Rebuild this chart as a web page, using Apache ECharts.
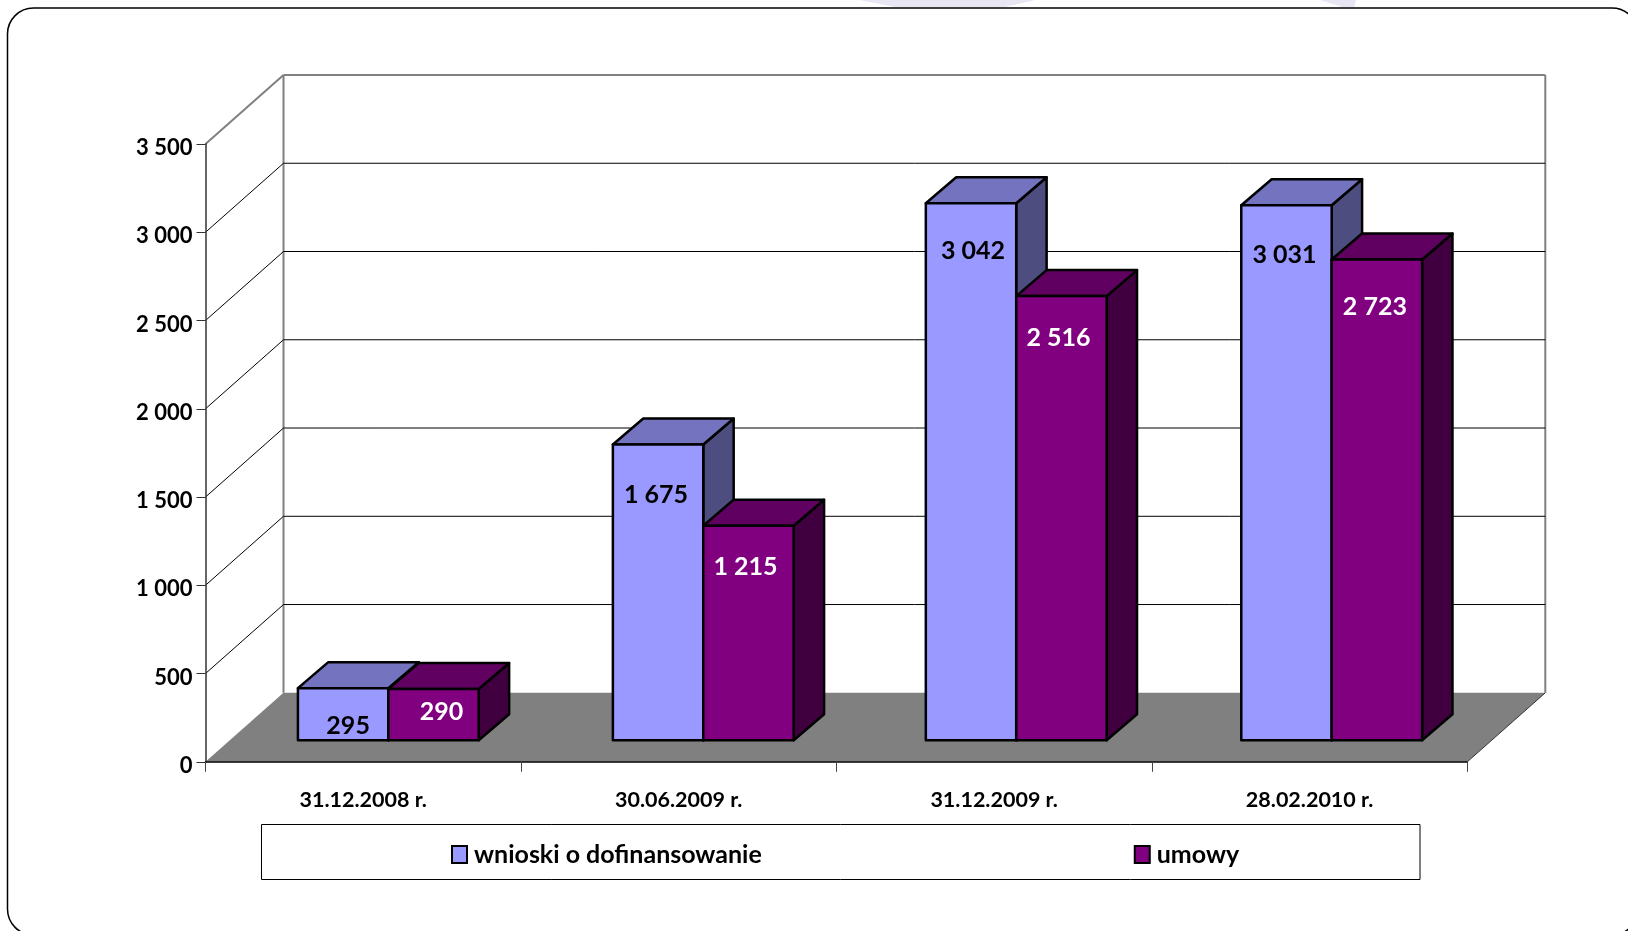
<!DOCTYPE html>
<html>
<head>
<meta charset="utf-8">
<style>html,body{margin:0;padding:0;background:#fff}#c{width:1628px;height:931px}</style>
<script src="https://cdn.jsdelivr.net/npm/echarts@6/dist/echarts.min.js"></script>
</head>
<body>
<div id="c"></div>
<script>
var categories = ['31.12.2008 r.', '30.06.2009 r.', '31.12.2009 r.', '28.02.2010 r.'];
var seriesNames = ['wnioski o dofinansowanie', 'umowy'];
var wnioski = [295, 1675, 3042, 3031];
var umowy = [290, 1215, 2516, 2723];
var valueTicks = [0, 500, 1000, 1500, 2000, 2500, 3000, 3500];
// hand-placed data-label nudges from the bar centre, in px
var wnioskiNudge = [[5, 38], [-2, 50], [2, 48], [-2, 50]];
var umowyNudge = [[8, 23], [-3, 41], [-3, 42], [-2, 47]];
// small per-category drift of the bar clusters in the source, in px
var clusterNudge = [0.5, 0, -2.5, -2.5];

var FONT = 'Lato,"Liberation Sans",sans-serif';
var WALL_DX = 78, WALL_DY = 69;
var BAR_SHIFT_X = 24.6, BAR_SHIFT_Y = 21.6;
var DEPTH_X = 30.4, DEPTH_Y = 26;
var BAR_W = 90.4;
var faces = [
  {front: '#9999FF', top: '#7373BF', side: '#4D4D80'},
  {front: '#800080', top: '#600060', side: '#400040'}
];
var labelColors = ['#000', '#fff'];

function spaced(v) { return String(v).replace(/\B(?=(\d{3})+$)/g, ' '); }
function thousands(v) { return spaced(v); }

function renderWall(params, api) {
  var r = params.coordSys;
  var v = api.value(0);
  var y = api.coord([0, v])[1];
  var x0 = r.x, x1 = r.x + r.width;
  var kids = [];
  var edge = (v === 3500);
  var stroke = edge ? '#808080' : '#000';
  var lw = edge ? 2 : 1;
  if (v === 0) {
    kids.push({type: 'polygon', shape: {points: [[x0, y], [x1, y], [x1 + WALL_DX, y - WALL_DY], [x0 + WALL_DX, y - WALL_DY]]},
      style: {fill: '#808080', stroke: null}});
    kids.push({type: 'line', shape: {x1: x0 + WALL_DX, y1: r.y - WALL_DY, x2: x0 + WALL_DX, y2: y - WALL_DY}, style: {stroke: '#808080', lineWidth: 2}});
    kids.push({type: 'line', shape: {x1: x1 + WALL_DX, y1: r.y - WALL_DY, x2: x1 + WALL_DX, y2: y - WALL_DY}, style: {stroke: '#808080', lineWidth: 2}});
    kids.push({type: 'line', shape: {x1: x1, y1: y, x2: x1 + WALL_DX, y2: y - WALL_DY}, style: {stroke: '#333', lineWidth: 1}});
  } else {
    kids.push({type: 'polyline', shape: {points: [[x0, y], [x0 + WALL_DX, y - WALL_DY]]}, style: {stroke: stroke, lineWidth: lw, fill: null}});
    kids.push({type: 'line', shape: {x1: x0 + WALL_DX, y1: y - WALL_DY, x2: x1 + WALL_DX, y2: y - WALL_DY}, style: {stroke: stroke, lineWidth: lw}});
  }
  return {type: 'group', children: kids};
}

function makeRenderBar(index, nudges) {
  return function (params, api) {
    var cat = api.value(0), val = api.value(1);
    var base = api.coord([cat, 0]);
    var topP = api.coord([cat, val]);
    var cx = base[0] + BAR_SHIFT_X + clusterNudge[params.dataIndex] + (index === 0 ? -BAR_W / 2 : BAR_W / 2);
    var l = cx - BAR_W / 2, rr = cx + BAR_W / 2;
    var b = base[1] - BAR_SHIFT_Y;
    var t = topP[1] - BAR_SHIFT_Y;
    var f = faces[index];
    var line = {stroke: '#000', lineWidth: 2.5, lineJoin: 'round'};
    var n = nudges[params.dataIndex];
    function st(fill) { return Object.assign({fill: fill}, line); }
    return {type: 'group', children: [
      {type: 'polygon', shape: {points: [[rr, t], [rr + DEPTH_X, t - DEPTH_Y], [rr + DEPTH_X, b - DEPTH_Y], [rr, b]]}, style: st(f.side)},
      {type: 'polygon', shape: {points: [[l, t], [l + DEPTH_X, t - DEPTH_Y], [rr + DEPTH_X, t - DEPTH_Y], [rr, t]]}, style: st(f.top)},
      {type: 'rect', shape: {x: l, y: t, width: BAR_W, height: b - t}, style: st(f.front)},
      {type: 'text', style: {x: cx + n[0], y: t + n[1], text: spaced(val), fill: labelColors[index], font: 'bold 25px ' + FONT, align: 'center', verticalAlign: 'middle'}}
    ]};
  };
}

function pairs(arr) { return arr.map(function (v, i) { return [i, v]; }); }

var chart = echarts.init(document.getElementById('c'), null, {renderer: 'canvas'});
chart.setOption({
  animation: false,
  backgroundColor: '#fff',
  textStyle: {fontFamily: FONT},
  graphic: {elements: [
    {type: 'polygon', silent: true, z: -1, shape: {points: [[860, 0], [1035, 0], [1005, 7], [895, 7]]}, style: {fill: '#E8E6F3'}},
    {type: 'polygon', silent: true, z: -1, shape: {points: [[1320, 0], [1356, 0], [1354, 7], [1342, 7]]}, style: {fill: '#E8E6F3'}},
    {type: 'rect', silent: true, z: 0, shape: {x: 7.5, y: 8, width: 1630.5, height: 927, r: 26}, style: {fill: '#fff', stroke: '#000', lineWidth: 1.5}},
    {type: 'rect', silent: true, z: 0, shape: {x: 261.5, y: 824.5, width: 1158.5, height: 55}, style: {fill: '#fff', stroke: '#000', lineWidth: 1}}
  ]},
  grid: {left: 205.5, right: 160.7, top: 144, bottom: 169.2, containLabel: false},
  legend: {
    left: 451, top: 842, orient: 'horizontal',
    padding: 0,
    itemWidth: 15, itemHeight: 17, itemGap: 372,
    data: seriesNames.map(function (n, i) {
      return {name: n, icon: 'rect', itemStyle: {color: faces[i].front, borderColor: '#000', borderWidth: 2}};
    }),
    textStyle: {fontFamily: FONT, fontWeight: 'bold', fontSize: 25, color: '#000', padding: [0, 0, 0, 2]}
  },
  xAxis: {
    type: 'category', data: categories, z: 3,
    axisLine: {onZero: true, lineStyle: {color: '#000', width: 1.5}},
    axisTick: {show: true, alignWithLabel: false, length: 10, lineStyle: {color: '#444', width: 1}},
    axisLabel: {fontFamily: FONT, fontWeight: 'bold', fontSize: 21.5, color: '#000', margin: 27}
  },
  yAxis: {
    type: 'value', min: 0, max: 3500, interval: 500, z: 3,
    axisLine: {show: true, lineStyle: {color: '#333', width: 1.5}},
    axisTick: {show: true, length: 9, lineStyle: {color: '#333', width: 1}},
    splitLine: {show: false},
    axisLabel: {fontFamily: FONT, fontWeight: 'bold', fontSize: 22, color: '#000', margin: 13, verticalAlign: 'top', lineHeight: 8, formatter: thousands}
  },
  series: [
    {type: 'custom', name: 'wall', z: 1, silent: true, coordinateSystem: 'cartesian2d', renderItem: renderWall,
      data: valueTicks.map(function (v) { return [v]; }), encode: {x: -1, y: 0}, clip: false, tooltip: {show: false}},
    {type: 'custom', name: seriesNames[0], z: 5, coordinateSystem: 'cartesian2d', renderItem: makeRenderBar(0, wnioskiNudge),
      data: pairs(wnioski), encode: {x: 0, y: 1}, itemStyle: {color: faces[0].front}, clip: false},
    {type: 'custom', name: seriesNames[1], z: 6, coordinateSystem: 'cartesian2d', renderItem: makeRenderBar(1, umowyNudge),
      data: pairs(umowy), encode: {x: 0, y: 1}, itemStyle: {color: faces[1].front}, clip: false}
  ]
});
</script>
</body>
</html>
